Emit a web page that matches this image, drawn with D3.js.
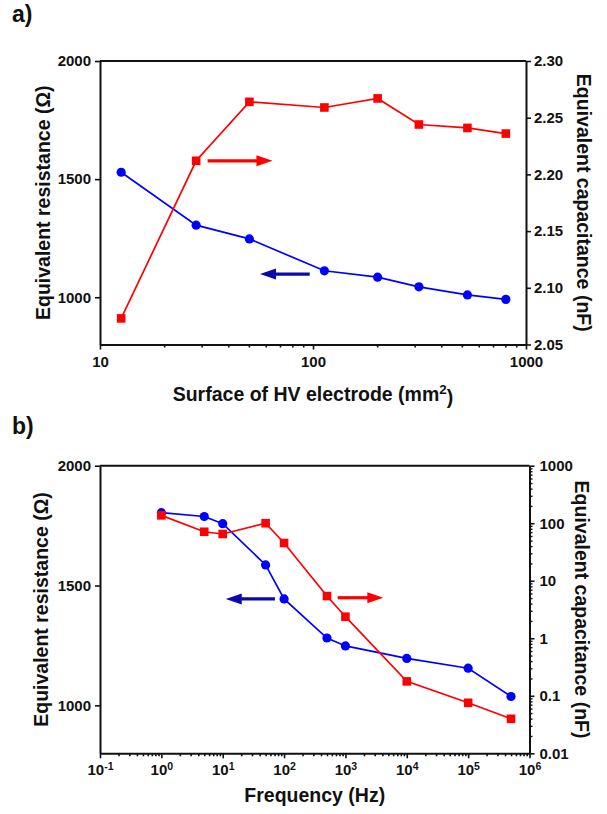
<!DOCTYPE html>
<html>
<head>
<meta charset="utf-8">
<script src="https://cdn.jsdelivr.net/npm/d3@7"></script>
<style>
  body { margin: 0; background: #fff; }
  svg { display: block; }
</style>
</head>
<body>
<div id="chart"></div>
<script>
// panel a: electrode surface sweep
const areaMm2 = [12.57, 28.27, 50.27, 113.1, 201.1, 314.2, 530.9, 804.2];
const resistanceA = [1529, 1305, 1247, 1112, 1085, 1044, 1010, 991];
const capacitanceA = [2.073, 2.212, 2.264, 2.259, 2.267, 2.244, 2.241, 2.236];

// panel b: frequency sweep
const freqHz = [1, 5, 10, 50, 100, 500, 1000, 10000, 100000, 500000];
const resistanceB = [1804, 1788, 1758, 1586, 1444, 1281, 1248, 1196, 1155, 1037];
const capacitanceB = [137, 71, 65, 100, 45.3, 5.42, 2.37, 0.178, 0.0755, 0.0398];

// tick values
const resTicks = [1000, 1500, 2000];
const areaTicks = [10, 100, 1000];
const capTicksA = [2.05, 2.10, 2.15, 2.20, 2.25, 2.30];
const freqTicks = [0.1, 1, 10, 100, 1000, 10000, 100000, 1000000];
const capTicksB = [0.01, 0.1, 1, 10, 100, 1000];

// arrows pointing to the axis each curve belongs to: [x tail, x tip, y]
const resArrowA = [96.5, 56.4, 1098];
const capArrowA = [32, 64.5, 2.212];
const resArrowB = [71, 11.2, 1444];
const capArrowB = [748, 4140, 5.07];

const FONT = "'Liberation Sans', Arial, sans-serif";
const RED = "#ff0000";
const BLUE = "#0000ff";
const DARKBLUE = "#0a0aaa";
const INK = "#111";

const svg = d3.select("#chart")
  .append("svg")
  .attr("width", 607)
  .attr("height", 814);

svg.append("rect").attr("width", 607).attr("height", 814).attr("fill", "#fff");

function minorTicks(majors) {
  const out = [];
  for (let i = 0; i < majors.length - 1; i++) {
    for (let k = 2; k <= 9; k++) out.push(majors[i] * k);
  }
  return out;
}

function styleAxis(g) {
  g.select(".domain").attr("stroke", INK).attr("stroke-width", 2);
  g.selectAll(".tick line").attr("stroke", INK).attr("stroke-width", 1.6);
  g.selectAll(".tick text")
    .attr("fill", INK)
    .attr("font-family", FONT)
    .attr("font-size", 15)
    .attr("font-weight", "bold");
}

function drawArrow(g, x0, x1, y, color) {
  const dir = x1 > x0 ? 1 : -1;
  const head = 16;
  g.append("line")
    .attr("x1", x0).attr("x2", x1 - dir * head + dir * 1)
    .attr("y1", y).attr("y2", y)
    .attr("stroke", color)
    .attr("stroke-width", 3.2);
  g.append("path")
    .attr("d", `M${x1},${y} L${x1 - dir * head},${y - 5.5} L${x1 - dir * head},${y + 5.5} Z`)
    .attr("fill", color);
}

function drawPanel(p) {
  const g = svg.append("g");

  const x = d3.scaleLog().domain(p.xDomain).range([p.left, p.right]);
  const yL = d3.scaleLinear().domain([800, 2000]).range([p.bottom, p.top]);
  const yR = (p.rightLog ? d3.scaleLog() : d3.scaleLinear())
    .domain(p.rightDomain).range([p.bottom, p.top]);

  // Panel letter
  g.append("text")
    .attr("x", 12).attr("y", p.letterY)
    .attr("font-family", FONT).attr("font-size", 23).attr("font-weight", "bold")
    .attr("fill", INK)
    .text(p.letter);

  // Resistance line (blue circles)
  const lineL = d3.line().x((d, i) => x(p.xs[i])).y(d => yL(d));
  g.append("path")
    .datum(p.res)
    .attr("fill", "none")
    .attr("stroke", BLUE)
    .attr("stroke-width", 1.7)
    .attr("d", lineL);
  g.selectAll(null)
    .data(p.res)
    .enter().append("circle")
    .attr("cx", (d, i) => x(p.xs[i]))
    .attr("cy", d => yL(d))
    .attr("r", 4.6)
    .attr("fill", BLUE);

  // Capacitance line (red squares)
  const lineR = d3.line().x((d, i) => x(p.xs[i])).y(d => yR(d));
  g.append("path")
    .datum(p.cap)
    .attr("fill", "none")
    .attr("stroke", RED)
    .attr("stroke-width", 1.7)
    .attr("d", lineR);
  g.selectAll(null)
    .data(p.cap)
    .enter().append("rect")
    .attr("x", (d, i) => x(p.xs[i]) - 4.3)
    .attr("y", d => yR(d) - 4.3)
    .attr("width", 8.6)
    .attr("height", 8.6)
    .attr("fill", RED);

  // Arrows
  drawArrow(g, x(p.resArrow[0]), x(p.resArrow[1]), yL(p.resArrow[2]), DARKBLUE);
  drawArrow(g, x(p.capArrow[0]), x(p.capArrow[1]), yR(p.capArrow[2]), RED);

  // Top frame line
  g.append("line")
    .attr("x1", p.left).attr("x2", p.right)
    .attr("y1", p.top).attr("y2", p.top)
    .attr("stroke", INK).attr("stroke-width", 2);

  // Add x-axis (minor then major)
  g.append("g")
    .attr("transform", "translate(0," + p.bottom + ")")
    .call(d3.axisBottom(x).tickValues(minorTicks(p.xTicks)).tickSize(3).tickFormat(""))
    .call(a => { a.select(".domain").remove(); a.selectAll(".tick line").attr("stroke", INK).attr("stroke-width", 1.6); });
  const xAxis = g.append("g")
    .attr("transform", "translate(0," + p.bottom + ")")
    .call(d3.axisBottom(x).tickValues(p.xTicks).tickSize(5).tickSizeOuter(0).tickPadding(p.xPad).tickFormat(p.xFormat));
  styleAxis(xAxis);
  if (p.powerLabels) {
    xAxis.selectAll(".tick text").each(function(d) {
      const t = d3.select(this);
      t.text(null);
      t.append("tspan").text("10");
      t.append("tspan")
        .attr("dy", "-0.45em")
        .attr("font-size", 10.5)
        .text(String(Math.round(Math.log10(d))));
    });
  }

  // Add left y-axis
  const yAxisL = g.append("g")
    .attr("transform", "translate(" + p.left + ",0)")
    .call(d3.axisLeft(yL).tickValues(resTicks).tickSize(5).tickSizeOuter(0).tickPadding(4)
      .tickFormat(d3.format("d")));
  styleAxis(yAxisL);

  // Add right y-axis
  if (p.rightLog) {
    g.append("g")
      .attr("transform", "translate(" + p.right + ",0)")
      .call(d3.axisRight(yR).tickValues(minorTicks(p.rightTicks)).tickSize(3).tickFormat(""))
      .call(a => { a.select(".domain").remove(); a.selectAll(".tick line").attr("stroke", INK).attr("stroke-width", 1.4); });
  }
  const yAxisR = g.append("g")
    .attr("transform", "translate(" + p.right + ",0)")
    .call(d3.axisRight(yR).tickValues(p.rightTicks).tickSize(5).tickSizeOuter(0)
      .tickPadding(p.rightPad).tickFormat(p.rightFormat));
  styleAxis(yAxisR);

  // Add x-axis label
  const xl = g.append("text")
    .attr("x", (p.left + p.right) / 2)
    .attr("y", p.xTitleY)
    .attr("text-anchor", "middle")
    .attr("font-family", FONT).attr("font-size", 19.5).attr("font-weight", "bold")
    .attr("fill", INK);
  xl.append("tspan").text(p.xTitle[0]);
  if (p.xTitle.length > 1) {
    xl.append("tspan").attr("dy", "-0.5em").attr("font-size", 13.5).text(p.xTitle[1]);
    xl.append("tspan").attr("dy", "0.5em").text(p.xTitle[2]);
  }

  // Add left y-axis label
  const midY = (p.top + p.bottom) / 2;
  g.append("text")
    .attr("transform", "translate(" + p.leftTitleX + "," + midY + ") rotate(-90)")
    .attr("text-anchor", "middle")
    .attr("font-family", FONT).attr("font-size", 19.5).attr("font-weight", "bold")
    .attr("fill", INK)
    .text("Equivalent resistance (\u03A9)");

  // Add right y-axis label
  g.append("text")
    .attr("transform", "translate(" + p.rightTitleX + "," + midY + ") rotate(90)")
    .attr("text-anchor", "middle")
    .attr("font-family", FONT).attr("font-size", 19.5).attr("font-weight", "bold")
    .attr("fill", INK)
    .text("Equivalent capacitance (nF)");
}

drawPanel({
  letter: "a)", letterY: 22,
  left: 100, right: 526, top: 61, bottom: 344.5,
  xs: areaMm2, res: resistanceA, cap: capacitanceA,
  xDomain: [10, 1000], xTicks: areaTicks, xFormat: d3.format("d"), xPad: 7,
  rightLog: false, rightDomain: [2.05, 2.30], rightTicks: capTicksA,
  rightFormat: d3.format(".2f"), rightPad: 3,
  resArrow: resArrowA, capArrow: capArrowA,
  xTitle: ["Surface of HV electrode (mm", "2", ")"], xTitleY: 401,
  leftTitleX: 50, rightTitleX: 577
});

drawPanel({
  letter: "b)", letterY: 434,
  left: 100, right: 529.5, top: 465.7, bottom: 753.3,
  xs: freqHz, res: resistanceB, cap: capacitanceB,
  xDomain: [0.1, 1000000], xTicks: freqTicks, xFormat: d => d, xPad: 6,
  powerLabels: true,
  rightLog: true, rightDomain: [0.01, 1000], rightTicks: capTicksB,
  rightFormat: d => String(d), rightPad: 5,
  resArrow: resArrowB, capArrow: capArrowB,
  xTitle: ["Frequency (Hz)"], xTitleY: 802,
  leftTitleX: 48, rightTitleX: 575
});
</script>
</body>
</html>
